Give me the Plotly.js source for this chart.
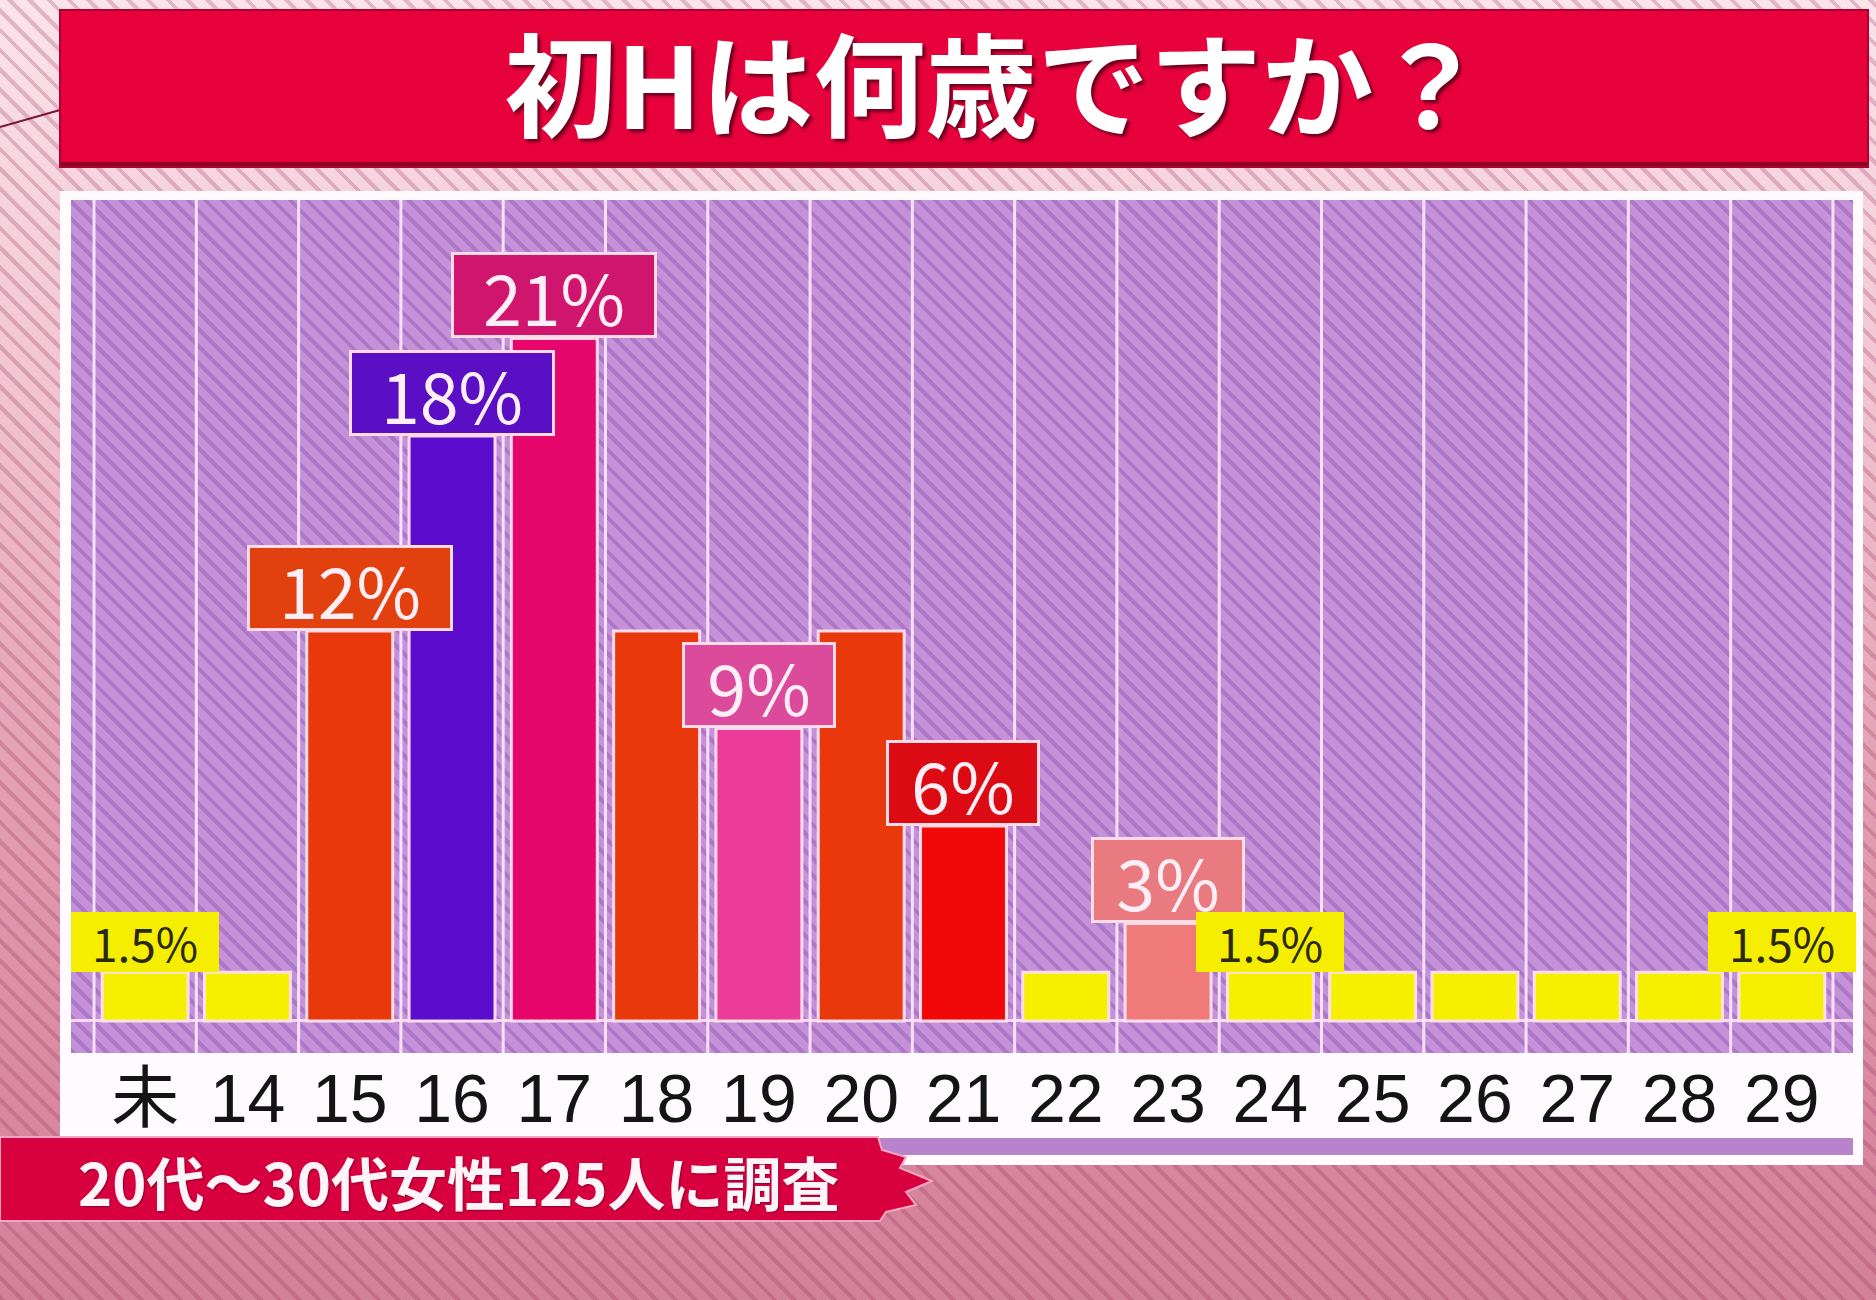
<!DOCTYPE html>
<html>
<head>
<meta charset="utf-8">
<script src="https://cdn.plot.ly/plotly-3.0.1.min.js"></script>
<style>
  html, body { margin:0; padding:0; }
  body {
    width:1876px; height:1300px; overflow:hidden; position:relative;
    background:
      repeating-linear-gradient(45deg, rgba(150,50,95,0.26) 0px, rgba(150,50,95,0.26) 4px, rgba(0,0,0,0) 4px, rgba(0,0,0,0) 14px),
      linear-gradient(180deg, #fbe4ea 0%, #f1c3d0 30%, #e39fb3 60%, #d8889f 85%, #d2819a 100%);
  }
  #frame { position:absolute; left:60px; top:191px; width:1803px; height:974px; background:#fffafd; }
  #plotbg {
    position:absolute; left:71px; top:200px; width:1782px; height:853px;
    background:
      repeating-linear-gradient(45deg, rgba(125,65,165,0.33) 0px, rgba(125,65,165,0.33) 4px, rgba(0,0,0,0) 4px, rgba(0,0,0,0) 12px),
      #c592da;
  }
  #chart { position:absolute; left:0; top:0; width:1876px; height:1300px; }
</style>
</head>
<body>
<div id="frame"></div>
<div id="plotbg"></div>
<div id="chart"></div>
<script>
// ---- data ----
const titleText = '初Hは何歳ですか？';
const noteText = '20代～30代女性125人に調査';
const categories = ['未','14','15','16','17','18','19','20','21','22','23','24','25','26','27','28','29'];
const values     = [1.5, 1.5, 12, 18, 21, 12, 9, 12, 6, 1.5, 3, 1.5, 1.5, 1.5, 1.5, 1.5, 1.5];
const barColors  = ['#f6ef00','#f6ef00','#e8380c','#5c0ccc','#e6066c','#e8380c','#ea3c98','#e8380c','#f20808','#f6ef00','#f07a7a','#f6ef00','#f6ef00','#f6ef00','#f6ef00','#f6ef00','#f6ef00'];
const labeled    = [true, false, true, true, true, false, true, false, true, false, true, true, false, false, false, false, true];
const labelBg    = ['#f5ee00','#f5ee00','#e2400f','#5a0fc4','#d0156f','#e2400f','#dc4a9c','#e2400f','#dc0a12','#f5ee00','#e87a80','#f5ee00','#f5ee00','#f5ee00','#f5ee00','#f5ee00','#f5ee00'];

// ---- geometry helpers (pixel -> paper) ----
const W = 1876, H = 1300;
const M = { l: 71, r: 23, t: 200, b: 247 };
const PW = W - M.l - M.r, PH = H - M.t - M.b;
const px = x => (x - M.l) / PW;
const py = y => (H - M.b - y) / PH;
function path(pts) {
  return 'M ' + pts.map(p => px(p[0]).toFixed(5) + ' ' + py(p[1]).toFixed(5)).join(' L ') + ' Z';
}

const jp = "'Noto Sans CJK JP', 'Noto Sans', sans-serif";

const trace = {
  type: 'bar',
  x: categories,
  y: values,
  marker: { color: barColors, line: { color: 'rgba(255,226,238,0.95)', width: 3 } },
  hoverinfo: 'skip'
};

const shapes = [];
// title bar
shapes.push({ type:'rect', xref:'paper', yref:'paper', x0:px(60), x1:px(1868), y0:py(167), y1:py(10),
  fillcolor:'#e8023c', line:{ color:'#b0002c', width:2 }, layer:'above' });
shapes.push({ type:'line', xref:'paper', yref:'paper', x0:px(61), x1:px(1867), y0:py(164), y1:py(164),
  line:{ color:'#8c0022', width:4 }, layer:'above' });
// bubble tail
shapes.push({ type:'line', xref:'paper', yref:'paper', x0:px(60), x1:px(0), y0:py(110), y1:py(127),
  line:{ color:'#7a1438', width:2 }, layer:'above' });
// category separators
for (let i = 0; i <= categories.length; i++) {
  shapes.push({ type:'line', xref:'x', yref:'paper', x0:i-0.5, x1:i-0.5, y0:0, y1:1,
    line:{ color:'rgba(248,230,255,0.95)', width:3 }, layer:'below' });
}
// purple strip under the label band
shapes.push({ type:'rect', xref:'paper', yref:'paper', x0:px(60), x1:px(1853), y0:py(1155), y1:py(1138),
  fillcolor:'#b784cc', line:{ width:0 }, layer:'above' });
// footnote banner
shapes.push({ type:'path', xref:'paper', yref:'paper',
  path: path([[0,1137],[878,1137],[882,1150],[906,1157],[900,1168],[932,1181],[906,1192],[916,1205],[886,1212],[880,1221],[0,1221]]),
  fillcolor:'#d8003f', line:{ color:'#f6a6c0', width:2 }, layer:'above' });

const annotations = [];
annotations.push({ xref:'paper', yref:'paper', x:px(76), y:py(1181), xanchor:'left', yanchor:'middle',
  text: noteText, showarrow:false,
  font:{ family: jp, size:58, color:'#fff4f8', weight:700, shadow:'1px 1px 2px rgba(120,0,40,0.8)' } });

for (let i = 0; i < categories.length; i++) {
  if (!labeled[i]) continue;
  const txt = values[i] + '%';
  const small = values[i] < 3;
  const w = small ? 148 : (52 * txt.length + 44);
  const h = small ? 60 : 80;
  annotations.push({
    xref:'x', yref:'y', x: i, y: values[i], xanchor:'center', yanchor:'bottom',
    text: txt, showarrow:false,
    width: w, height: h, borderpad: 0, borderwidth: small ? 0 : 3,
    bgcolor: labelBg[i], bordercolor: small ? labelBg[i] : '#ffdbe8',
    font: small ? { family: jp, size:46, color:'#2b2a10' } : { family: jp, size:70, color:'#ffeef5' }
  });
}

const layout = {
  width: W, height: H,
  margin: M,
  paper_bgcolor: 'rgba(0,0,0,0)',
  plot_bgcolor: 'rgba(0,0,0,0)',
  showlegend: false,
  bargap: 0.16,
  title: {
    text: titleText, xref:'container', yref:'container', x: 995 / W, y: 1 - 90 / H,
    xanchor:'center', yanchor:'middle',
    font: { family: jp, size: 112, color:'#ffffff', weight: 700, shadow:'3px 3px 3px rgba(90,0,25,0.85)' }
  },
  xaxis: {
    type:'category', range:[-0.725, 16.696], showgrid:false, zeroline:false, showline:false,
    ticks:'', fixedrange:true,
    tickfont: { family: "'Liberation Sans Narrow', 'Liberation Sans', 'Noto Sans CJK JP', sans-serif", size: 68, color:'#141414' }
  },
  yaxis: {
    range:[-0.985, 25.26], showgrid:false, showticklabels:false, ticks:'', showline:false,
    zeroline:true, zerolinecolor:'rgba(255,226,242,0.9)', zerolinewidth:3, fixedrange:true
  },
  shapes: shapes,
  annotations: annotations
};

Plotly.newPlot('chart', [trace], layout, { displayModeBar:false, staticPlot:true });
</script>
</body>
</html>
